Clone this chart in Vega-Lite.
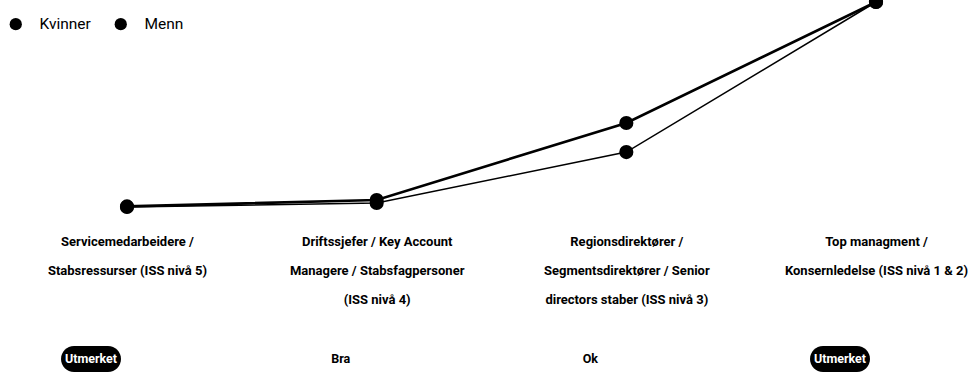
{
  "$schema": "https://vega.github.io/schema/vega-lite/v6.json",
  "autosize": {"type": "pad"},
  "padding": {"left": 8, "top": -6, "right": 0, "bottom": 0},
  "background": "white",
  "config": {
    "view": {"stroke": null},
    "font": "Roboto",
    "concat": {"spacing": 40}
  },
  "vconcat": [
    {
      "width": 749,
      "height": 205,
      "data": {
        "values": [
          {"kategori": "Servicemedarbeidere /\nStabsressurser (ISS nivå 5)", "serie": "Kvinner", "verdi": 0},
          {"kategori": "Driftssjefer / Key Account\nManagere / Stabsfagpersoner\n(ISS nivå 4)", "serie": "Kvinner", "verdi": 2.0},
          {"kategori": "Regionsdirektører /\nSegmentsdirektører / Senior\ndirectors staber (ISS nivå 3)", "serie": "Kvinner", "verdi": 26.8},
          {"kategori": "Top managment /\nKonsernledelse (ISS nivå 1 & 2)", "serie": "Kvinner", "verdi": 100},
          {"kategori": "Servicemedarbeidere /\nStabsressurser (ISS nivå 5)", "serie": "Menn", "verdi": 0.3},
          {"kategori": "Driftssjefer / Key Account\nManagere / Stabsfagpersoner\n(ISS nivå 4)", "serie": "Menn", "verdi": 3.4},
          {"kategori": "Regionsdirektører /\nSegmentsdirektører / Senior\ndirectors staber (ISS nivå 3)", "serie": "Menn", "verdi": 41.0},
          {"kategori": "Top managment /\nKonsernledelse (ISS nivå 1 & 2)", "serie": "Menn", "verdi": 100}
        ]
      },
      "encoding": {
        "x": {
          "field": "kategori",
          "type": "nominal",
          "sort": null,
          "scale": {
            "type": "point",
            "padding": 0,
            "domain": [
              "Servicemedarbeidere /\nStabsressurser (ISS nivå 5)",
              "Driftssjefer / Key Account\nManagere / Stabsfagpersoner\n(ISS nivå 4)",
              "Regionsdirektører /\nSegmentsdirektører / Senior\ndirectors staber (ISS nivå 3)",
              "Top managment /\nKonsernledelse (ISS nivå 1 & 2)"
            ]
          },
          "axis": {
            "title": null,
            "domain": false,
            "ticks": false,
            "labelAngle": 0,
            "labelExpr": "split(datum.label, '\\n')",
            "labelFont": "Roboto",
            "labelFontWeight": "bold",
            "labelFontSize": 13,
            "labelColor": "#000000",
            "labelPadding": 28,
            "labelLineHeight": 29,
            "labelBaseline": "top",
            "labelLimit": 0
          }
        },
        "y": {
          "field": "verdi",
          "type": "quantitative",
          "scale": {"domain": [0, 100]},
          "axis": null
        }
      },
      "layer": [
        {
          "mark": {"type": "line", "color": "#000000", "clip": false},
          "encoding": {
            "detail": {"field": "serie"},
            "strokeWidth": {
              "condition": {"test": "datum.serie === 'Menn'", "value": 2.6},
              "value": 1.5
            }
          }
        },
        {
          "mark": {"type": "point", "filled": true, "opacity": 1, "size": 200, "shape": "circle"},
          "encoding": {
            "color": {
              "field": "serie",
              "type": "nominal",
              "scale": {"domain": ["Kvinner", "Menn"], "range": ["#000000", "#000000"]},
              "legend": {
                "title": null,
                "orient": "none",
                "direction": "horizontal",
                "legendX": -119,
                "legendY": 14,
                "symbolType": "circle",
                "symbolSize": 150,
                "symbolOpacity": 1,
                "labelFont": "Roboto",
                "labelFontSize": 15.5,
                "labelColor": "#000000",
                "labelOffset": 16,
                "columnPadding": 22,
                "padding": 0
              }
            }
          }
        }
      ]
    },
    {
      "width": 749,
      "height": 26,
      "data": {
        "values": [
          {"kategori": "Servicemedarbeidere /\nStabsressurser (ISS nivå 5)", "vurdering": "Utmerket"},
          {"kategori": "Driftssjefer / Key Account\nManagere / Stabsfagpersoner\n(ISS nivå 4)", "vurdering": "Bra"},
          {"kategori": "Regionsdirektører /\nSegmentsdirektører / Senior\ndirectors staber (ISS nivå 3)", "vurdering": "Ok"},
          {"kategori": "Top managment /\nKonsernledelse (ISS nivå 1 & 2)", "vurdering": "Utmerket"}
        ]
      },
      "encoding": {
        "x": {
          "field": "kategori",
          "type": "nominal",
          "sort": null,
          "scale": {
            "type": "point",
            "padding": 0,
            "domain": [
              "Servicemedarbeidere /\nStabsressurser (ISS nivå 5)",
              "Driftssjefer / Key Account\nManagere / Stabsfagpersoner\n(ISS nivå 4)",
              "Regionsdirektører /\nSegmentsdirektører / Senior\ndirectors staber (ISS nivå 3)",
              "Top managment /\nKonsernledelse (ISS nivå 1 & 2)"
            ]
          },
          "axis": null
        }
      },
      "layer": [
        {
          "transform": [{"filter": "datum.vurdering === 'Utmerket'"}],
          "mark": {
            "type": "point",
            "filled": true,
            "opacity": 1,
            "color": "#000000",
            "xOffset": -36,
            "size": 3600,
            "shape": "M -0.567 -0.433 L 0.567 -0.433 A 0.433 0.433 0 0 1 0.567 0.433 L -0.567 0.433 A 0.433 0.433 0 0 1 -0.567 -0.433 Z"
          }
        },
        {
          "mark": {"type": "text", "font": "Roboto", "fontWeight": "bold", "fontSize": 12.5, "xOffset": -36, "baseline": "middle"},
          "encoding": {
            "text": {"field": "vurdering"},
            "color": {
              "condition": {"test": "datum.vurdering === 'Utmerket'", "value": "#ffffff"},
              "value": "#000000"
            }
          }
        }
      ]
    }
  ]
}
